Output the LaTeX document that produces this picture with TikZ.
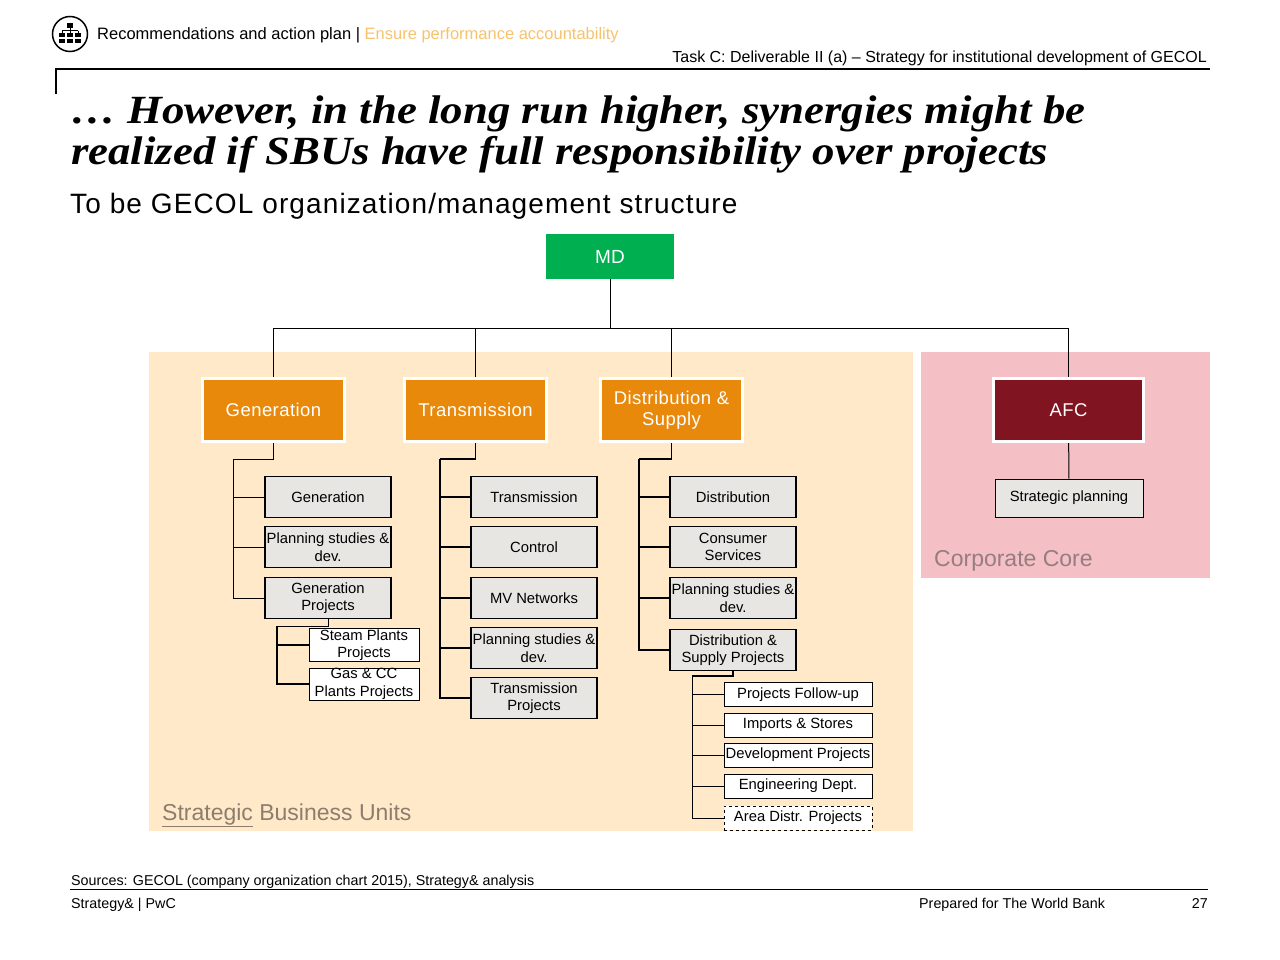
\documentclass[tikz,border=0pt]{standalone}
\usepackage{fontspec}
\setmainfont{Liberation Sans}
\newfontfamily\titlefont[FakeStretch=1.12]{Liberation Serif}
\usepackage{xcolor}
\usepackage{tikz}

\definecolor{sbuorange}{RGB}{232,137,12}
\definecolor{mdgreen}{RGB}{0,176,80}
\definecolor{afcred}{RGB}{128,20,32}
\definecolor{sbubg}{RGB}{255,233,201}
\definecolor{ccbg}{RGB}{244,192,197}
\definecolor{deptgray}{RGB}{232,230,227}
\definecolor{lightorange}{RGB}{246,194,110}
\definecolor{labelgray}{RGB}{140,126,110}
\definecolor{ccgray}{RGB}{150,125,128}

\newcommand{\fsz}[2]{\fontsize{#1}{#2}\selectfont}

\begin{document}
\begin{tikzpicture}[x=1pt,y=-1pt,
	txt/.style={inner sep=0pt, anchor=base west},
	mdbox/.style={fill=mdgreen, minimum width=128pt, minimum height=45pt, text=white, font=\fsz{19}{22}},
	unitbox/.style={fill=sbuorange, draw=white, line width=3pt, minimum width=142pt, minimum height=63pt, inner sep=1pt, text=white, align=center, font=\fsz{18.5}{21.5}\addfontfeature{LetterSpace=2.4}},
	corebox/.style={unitbox, fill=afcred, minimum width=150pt},
	dept/.style={fill=deptgray, draw=black, line width=1.2pt, minimum width=126pt, minimum height=41pt, inner sep=0.5pt, align=center, font=\fsz{14.8}{17.5}},
	subdept/.style={fill=white, draw=black, line width=1pt, minimum width=110pt, minimum height=32pt, inner sep=0.5pt, align=center, font=\fsz{14.8}{17.5}},
	projdept/.style={subdept, minimum width=148pt, minimum height=24pt},
	tree/.style={line width=1.5pt},
	link/.style={line width=1pt}]

	\useasboundingbox (0,0) rectangle (1280,960);

	% header
	\draw[line width=1.5pt] (70,34) circle (17.5);
	\fill (67,23) rectangle (73,28);
	\draw[line width=1pt] (70,28) -- (70,31) (62,31) -- (78,31) (62,31) -- (62,33) (70,31) -- (70,33) (78,31) -- (78,33);
	\foreach \i in {59,67,75} {
		\fill (\i,33) rectangle ++(6,4);
		\fill (\i,39) rectangle ++(6,4);
	}
	\node[txt, font=\fsz{16.5}{19}] (crumb) at (97,39.5) {Recommendations and action plan | \textcolor{lightorange}{Ensure performance accountability}};
	\node[txt, anchor=base east, font=\fsz{16}{19}] (task) at (1207,62.5) {Task C: Deliverable II (a) – Strategy for institutional development of GECOL};
	\draw[line width=1.2pt] (55,69) -- (1210,69);
	\draw[line width=2pt] (56,69) -- (56,94);

	% title
	\node[txt, font=\titlefont\bfseries\itshape\fsz{40}{45}] (title1) at (71,124) {… However, in the long run higher, synergies might be};
	\node[txt, font=\titlefont\bfseries\itshape\fsz{40}{45}] (title2) at (71,165) {realized if SBUs have full responsibility over projects};
	\node[txt, font=\fsz{28}{33}\addfontfeature{LetterSpace=4}] (subtitle) at (70,214) {To be GECOL organization/management structure};

	% background areas
	\fill[sbubg] (149,352) rectangle (913,831);
	\fill[ccbg] (921,352) rectangle (1210,578);
	\node[txt, text=labelgray, font=\fsz{23}{27}] (sbulabel) at (162,820) {\underline{Strategic} Business Units};
	\node[txt, text=ccgray, font=\fsz{23}{27}] (cclabel) at (934,566) {Corporate Core};

	% top level
	\node[mdbox] (md) at (610,256.5) {MD};
	\node[unitbox] (gen) at (273.5,410) {Generation};
	\node[unitbox] (tra) at (475.5,410) {Transmission};
	\node[unitbox] (dis) at (671.5,410) {Distribution \&\\Supply};
	\node[corebox] (afc) at (1068.5,410) {AFC};

	\coordinate (top) at (610,328);
	\draw[link] (md.south) -- (top);
	\foreach \u in {gen,tra,dis,afc}
		\draw[link] (top) -| (\u.north);

	% Generation
	\node[dept] (g1) at (328,497) {Generation};
	\node[dept] (g2) at (328,547) {Planning studies \&\\dev.};
	\node[dept] (g3) at (328,598) {Generation\\Projects};
	\node[subdept] (gs1) at (364,645) {Steam Plants\\Projects};
	\node[subdept] (gs2) at (364,684) {Gas \& CC\\Plants Projects};

	\coordinate (genbus) at (233,459);
	\draw[link] (gen.south) |- (genbus);
	\foreach \c in {g1,g2,g3}
		\draw[link] (genbus) |- (\c.west);
	\coordinate (gsbus) at (277,626);
	\draw[link] (g3.south) |- (gsbus);
	\foreach \c in {gs1,gs2}
		\draw[tree] (gsbus) |- (\c.west);

	% Transmission
	\node[dept] (t1) at (534,497) {Transmission};
	\node[dept] (t2) at (534,547) {Control};
	\node[dept] (t3) at (534,598) {MV Networks};
	\node[dept] (t4) at (534,648) {Planning studies \&\\dev.};
	\node[dept] (t5) at (534,698) {Transmission\\Projects};

	\coordinate (trabus) at (440,459);
	\draw[tree] (tra.south) |- (trabus);
	\foreach \c in {t1,t2,t3,t4,t5}
		\draw[tree] (trabus) |- (\c.west);

	% Distribution & Supply
	\node[dept] (d1) at (733,497) {Distribution};
	\node[dept] (d2) at (733,547) {Consumer\\Services};
	\node[dept] (d3) at (733,598) {Planning studies \&\\dev.};
	\node[dept] (d4) at (733,650) {Distribution \&\\Supply Projects};
	\node[projdept] (dp1) at (798,694.5) {Projects Follow-up};
	\node[projdept] (dp2) at (798,725) {Imports \& Stores};
	\node[projdept] (dp3) at (798,755) {Development Projects};
	\node[projdept] (dp4) at (798,786) {Engineering Dept.};
	\node[projdept, dashed] (dp5) at (798,818) {Area Distr. Projects};

	\coordinate (disbus) at (639,459);
	\draw[tree] (dis.south) |- (disbus);
	\foreach \c in {d1,d2,d3,d4}
		\draw[tree] (disbus) |- (\c.west);
	\coordinate (dpbus) at (692,676);
	\draw[tree] (d4.south) |- (dpbus);
	\foreach \c in {dp1,dp2,dp3,dp4,dp5}
		\draw[link] (dpbus) |- (\c.west);

	% Corporate core
	\node[dept, line width=1pt, minimum width=148pt, minimum height=38pt] (sp) at (1069,498) {Strategic planning};
	\draw[link] (afc) -- (sp);

	% footer
	\node[txt, font=\fsz{14.3}{17}] (src) at (71,885) {Sources: GECOL (company organization chart 2015), Strategy\& analysis};
	\draw[line width=1pt] (70,889) -- (1208,889);
	\node[txt, font=\fsz{14.3}{17}] (brand) at (71,908) {Strategy\& | PwC};
	\node[txt, font=\fsz{14.3}{17}] (client) at (919,908) {Prepared for The World Bank};
	\node[txt, anchor=base east, font=\fsz{14.3}{17}] (page) at (1208,908) {27};
\end{tikzpicture}
\end{document}
